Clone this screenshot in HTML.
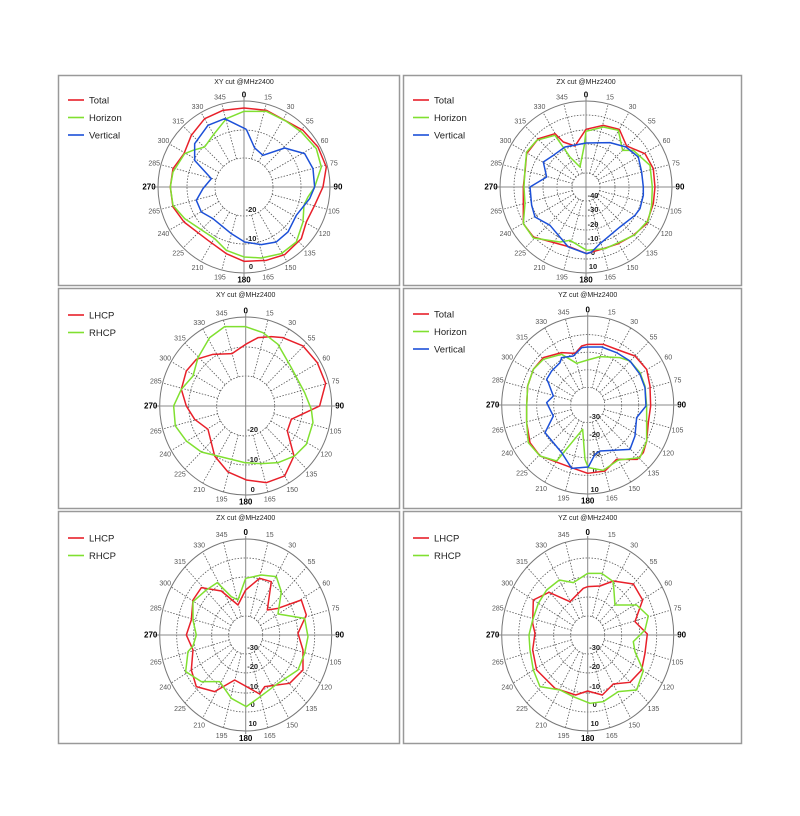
<!DOCTYPE html>
<html><head><meta charset="utf-8"><style>
body{margin:0;background:#fff;width:800px;height:816px;overflow:hidden}
svg{position:absolute;left:0;top:0}
text{font-family:"Liberation Sans",sans-serif}
</style></head><body>
<svg id="s" width="800" height="816" viewBox="0 0 800 816"></svg>
<script>
const R='#e8202a',G='#80e030',B='#1c50d8';
const P=[
{bx:58,by:75,bw:341,bh:210,zx:58,zy:72,cx:244,cy:187,ry:86,title:'XY cut @MHz2400',leg:[['Total',R],['Horizon',G],['Vertical',B]],ly:100,
rings:[29,57],db:[['-20',22],['-10',51],['0',79]],
ser:[[R,'558,108 625,115 690,150 735,175 780,225 805,285 795,345 770,400 745,450 730,500 680,548 625,565 558,568 505,545 450,505 378,450 345,405 337,345 345,290 378,245 400,190 440,140 495,115 558,108'],
[G,'558,118 625,118 685,148 730,180 775,230 790,285 770,345 750,375 738,400 735,450 715,510 670,545 610,558 558,555 505,535 470,500 440,480 380,440 345,400 337,345 345,300 380,245 405,235 440,225 465,190 505,140 558,118'],
[B,'565,172 590,228 615,250 680,228 740,245 765,290 770,345 755,380 715,430 690,480 655,510 610,518 560,510 520,485 465,440 430,420 415,385 435,350 460,320 410,265 410,215 450,160 500,140 565,172']]},
{bx:403,by:75,bw:338,bh:210,zx:400,zy:72,cx:586,cy:187,ry:86,title:'ZX cut @MHz2400',leg:[['Total',R],['Horizon',G],['Vertical',B]],ly:100,
rings:[14,29,43,57,72],db:[['-40',8],['-30',22],['-20',37],['-10',51],['0',65],['10',79]],
ser:[[R,'558,172 610,160 658,172 680,222 735,245 760,290 765,345 760,395 740,455 700,490 655,515 610,530 560,545 510,525 400,495 370,455 370,395 370,345 375,300 380,245 415,200 465,185 490,210 525,222 558,172'],
[G,'558,178 610,165 655,175 668,235 700,235 750,280 757,345 755,400 745,445 705,488 660,510 615,530 560,535 510,505 480,510 400,498 370,455 375,395 372,345 375,290 380,240 410,205 465,190 510,255 540,285 553,220 558,178'],
[B,'558,213 630,212 678,225 715,255 725,300 730,345 730,370 720,410 705,430 660,465 600,515 575,540 560,545 505,525 450,460 405,435 395,400 390,345 440,315 430,270 460,250 495,225 558,213']]},
{bx:58,by:288,bw:341,bh:220,zx:58,zy:286,cx:245.7,cy:406,ry:89,title:'XY cut @MHz2400',leg:[['LHCP',R],['RHCP',G]],ly:315,
rings:[29,57],db:[['-20',23],['-10',53],['0',83]],
ser:[[R,'563,175 600,155 640,152 675,155 735,180 778,230 803,292 785,360 700,400 688,435 708,510 680,570 625,590 565,582 510,558 470,510 450,430 410,400 385,360 370,310 385,255 415,220 465,205 522,203 563,175'],
[G,'563,122 615,140 660,175 700,245 740,320 760,370 765,410 745,475 710,510 660,530 610,533 560,530 430,498 385,465 352,420 347,360 370,310 405,270 420,215 455,155 500,122 563,122']]},
{bx:403,by:288,bw:338,bh:220,zx:400,zy:286,cx:587.7,cy:405,ry:89,title:'YZ cut @MHz2400',leg:[['Total',R],['Horizon',G],['Vertical',B]],ly:314,
rings:[17,34,51,68],db:[['-30',11],['-20',29],['-10',48],['0',65],['10',84]],
ser:[[R,'563,175 610,175 655,192 705,210 740,250 750,300 752,360 745,410 740,465 730,500 712,520 650,520 615,555 563,562 515,545 420,510 390,470 380,410 380,360 383,300 400,250 430,215 485,200 525,202 545,180 563,175'],
[G,'563,222 600,212 660,215 690,225 720,260 735,300 740,360 740,400 740,465 720,515 655,522 610,553 565,545 555,520 548,430 470,525 420,510 385,470 380,410 380,360 383,300 400,250 430,220 485,205 530,232 563,222'],
[B,'563,183 605,183 650,200 690,225 720,265 735,305 738,360 710,395 705,450 690,490 600,495 585,505 565,543 515,547 485,500 435,440 460,390 440,350 460,330 445,290 440,280 455,255 480,230 485,215 520,210 545,185 563,183']]},
{bx:58,by:511,bw:341,bh:232,zx:58,zy:510,cx:245.7,cy:635,ry:96,title:'ZX cut @MHz2400',leg:[['LHCP',R],['RHCP',G]],ly:538,
rings:[17,34,52,69],db:[['-30',12],['-20',31],['-10',51],['0',69],['10',88]],
ser:[[R,'563,240 605,205 640,215 628,300 660,295 730,270 745,315 720,370 735,420 735,480 695,520 620,530 605,552 530,510 470,545 415,530 400,480 405,420 385,375 400,330 405,270 430,233 490,243 540,285 563,240'],
[G,'563,205 610,195 655,200 670,245 660,312 740,325 750,380 740,430 720,480 660,520 600,565 565,590 520,565 485,515 430,515 383,485 390,425 405,408 415,375 405,330 405,275 445,240 478,218 520,260 540,270 563,205']]},
{bx:403,by:511,bw:338,bh:232,zx:400,zy:510,cx:587.7,cy:635,ry:96,title:'YZ cut @MHz2400',leg:[['LHCP',R],['RHCP',G]],ly:538,
rings:[17,34,52,69],db:[['-30',12],['-20',31],['-10',51],['0',69],['10',88]],
ser:[[R,'563,230 600,228 640,213 700,222 728,270 705,335 742,372 735,430 725,480 690,517 640,522 607,555 563,543 527,555 465,535 410,480 398,420 405,370 398,340 400,270 447,247 510,275 550,235 563,230'],
[G,'563,190 605,190 640,215 645,285 710,285 745,318 735,360 700,395 705,425 730,482 710,540 655,545 610,575 570,580 520,560 480,540 420,530 400,480 390,420 387,375 398,330 415,280 440,240 478,210 520,218 563,190']]}
];
const angl=['0','15','30','55','60','75','90','105','120','135','150','165','180','195','210','225','240','265','270','285','300','315','330','345'];
let h='';
for(const p of P){
 const sy=p.ry/86, R0=86;
 h+=`<rect x="${p.bx+.5}" y="${p.by+.5}" width="${p.bw}" height="${p.bh}" fill="#fff" stroke="#999" stroke-width="1.5"/>`;
 h+=`<text x="${p.cx}" y="${p.by+9}" font-size="7" text-anchor="middle" fill="#222">${p.title}</text>`;
 p.leg.forEach((l,i)=>{const y=p.ly+i*17.5;h+=`<line x1="68" x2="84" y1="${y}" y2="${y}" transform="translate(${p.bx-58},0)" stroke="${l[1]}" stroke-width="1.6"/><text x="${p.bx+31}" y="${y+3.5}" font-size="9.5" fill="#222">${l[0]}</text>`;});
 const r1=p.rings[0];
 for(const r of p.rings) h+=`<ellipse cx="${p.cx}" cy="${p.cy}" rx="${r}" ry="${r*sy}" fill="none" stroke="#555" stroke-width=".8" stroke-dasharray="1.5,1.5"/>`;
 for(let i=0;i<24;i++){if(i%6==0)continue;const a=i*15*Math.PI/180,s=Math.sin(a),c=Math.cos(a);
  h+=`<line x1="${p.cx+r1*s}" y1="${p.cy-r1*c*sy}" x2="${p.cx+R0*s}" y2="${p.cy-R0*c*sy}" stroke="#555" stroke-width=".8" stroke-dasharray="1.5,1.5"/>`;}
 h+=`<ellipse cx="${p.cx}" cy="${p.cy}" rx="${R0}" ry="${R0*sy}" fill="none" stroke="#777" stroke-width="1"/>`;
 h+=`<line x1="${p.cx-91}" x2="${p.cx+91}" y1="${p.cy}" y2="${p.cy}" stroke="#888" stroke-width="1"/><line x1="${p.cx}" x2="${p.cx}" y1="${p.cy-R0*sy-3}" y2="${p.cy+R0*sy+3}" stroke="#888" stroke-width="1"/>`;
 for(let i=0;i<24;i++){const a=i*15*Math.PI/180,s=Math.sin(a),c=Math.cos(a);
  const bold=i%6==0;const rr=bold?91:93;const x=p.cx+rr*s+(i==6?3:i==18?-4:0),y=p.cy-rr*c*sy+2.5+(i==0?-1:i==12?2:0);
  h+=`<text x="${x}" y="${y}" font-size="${bold?8:7}" ${bold?'font-weight="bold" fill="#000"':'fill="#555"'} text-anchor="middle">${angl[i]}</text>`;}
 for(const d of p.db) h+=`<text x="${p.cx+7}" y="${p.cy+d[1]+3}" font-size="7.5" font-weight="bold" fill="#222" text-anchor="middle">${d[0]}</text>`;
 h+=`<g transform="translate(${p.zx},${p.zy}) scale(0.3333)">`;
 for(const s of p.ser) h+=`<polyline points="${s[1]}" fill="none" stroke="${s[0]}" stroke-width="4.5" stroke-linejoin="round"/>`;
 h+='</g>';
}
document.getElementById('s').innerHTML=h;
</script>
</body></html>
